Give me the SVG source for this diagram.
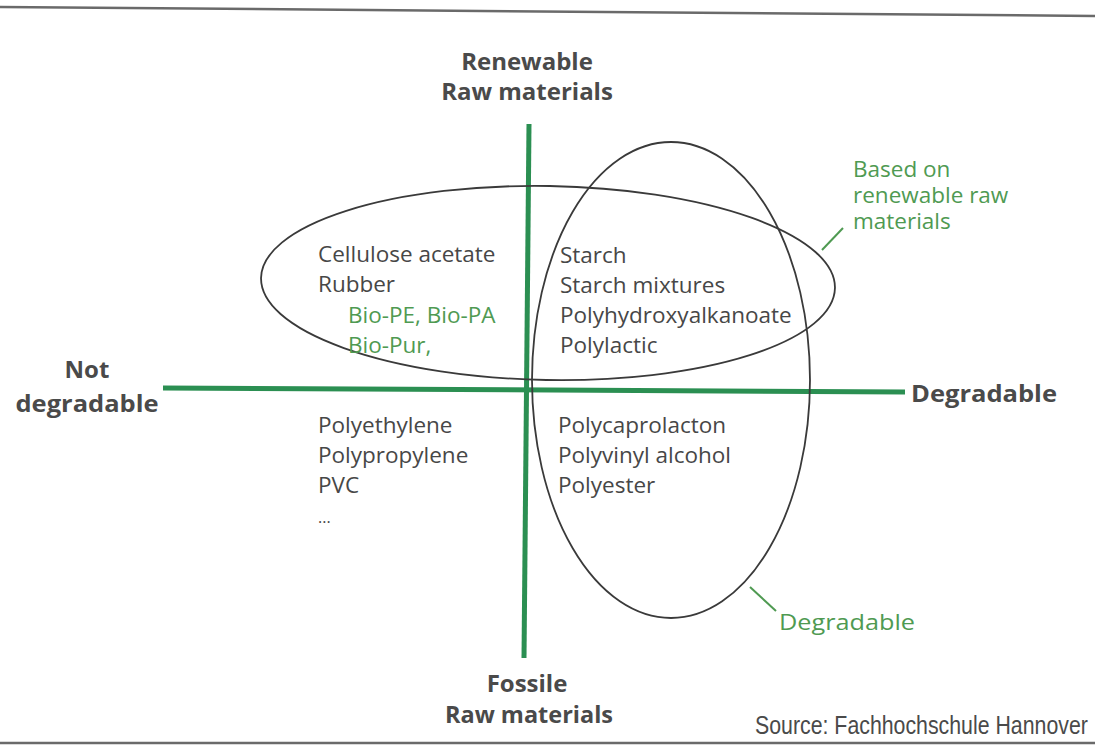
<svg xmlns="http://www.w3.org/2000/svg" width="1095" height="747" viewBox="0 0 1095 747">
<style>
.bold{font-family:"Open Sans","Noto Sans",sans-serif;font-weight:bold;font-size:24px;fill:#4a4a4a}
.body{font-family:"Open Sans","Noto Sans",sans-serif;font-size:22.5px;fill:#474747}
.gbody{font-family:"Open Sans","Noto Sans",sans-serif;font-size:22.5px;fill:#4f9a52}
.glabel{font-family:"Open Sans","Noto Sans",sans-serif;font-size:22.5px;fill:#4f9a52}
.src{font-family:"Liberation Sans",Arial,sans-serif;font-size:26px;fill:#4a4a4a}
.axis{stroke:#2b8f52;stroke-width:5;fill:none}
.ell{stroke:#3a3a3a;stroke-width:1.8;fill:none}
.lead{stroke:#4f9a52;stroke-width:2;fill:none}
.rule{stroke:#6a6a6a;stroke-width:2.5;fill:none}
</style>
<rect width="1095" height="747" fill="#ffffff"/>
<g id="frame">
<line class="rule" x1="0" y1="7" x2="1095" y2="16"/>
<line class="rule" x1="0" y1="743" x2="1095" y2="743"/>
</g>
<g id="connectors">
<line class="axis" x1="163" y1="388" x2="905" y2="392"/>
<line class="axis" x1="529" y1="124" x2="524" y2="658"/>
<line class="lead" x1="822" y1="250" x2="843" y2="228"/>
<line class="lead" x1="750" y1="587" x2="776" y2="611"/>
</g>
<g id="ellipse-renewable">
<ellipse class="ell" cx="548" cy="283" rx="287" ry="97" transform="rotate(1 548 283)"/>
</g>
<g id="ellipse-degradable">
<ellipse class="ell" cx="671" cy="380" rx="139" ry="238"/>
</g>
<g id="label-renewable">
<text class="bold" x="527" y="70" text-anchor="middle">Renewable</text>
<text class="bold" x="527" y="100" text-anchor="middle">Raw materials</text>
</g>
<g id="label-fossile">
<text class="bold" x="527" y="692" text-anchor="middle">Fossile</text>
<text class="bold" x="529" y="723" text-anchor="middle" textLength="168" lengthAdjust="spacingAndGlyphs">Raw materials</text>
</g>
<g id="label-notdegradable">
<text class="bold" x="87" y="378" text-anchor="middle">Not</text>
<text class="bold" x="87" y="412" text-anchor="middle" textLength="143" lengthAdjust="spacingAndGlyphs">degradable</text>
</g>
<g id="label-degradable">
<text class="bold" x="911" y="402" textLength="146" lengthAdjust="spacingAndGlyphs">Degradable</text>
</g>
<g id="quadrant-top-left">
<text class="body" x="318" y="262">Cellulose acetate</text>
<text class="body" x="318" y="292">Rubber</text>
<text class="gbody" x="348" y="323">Bio-PE, Bio-PA</text>
<text class="gbody" x="348" y="353">Bio-Pur,</text>
</g>
<g id="quadrant-top-right">
<text class="body" x="560" y="263">Starch</text>
<text class="body" x="560" y="293">Starch mixtures</text>
<text class="body" x="560" y="323">Polyhydroxyalkanoate</text>
<text class="body" x="560" y="353">Polylactic</text>
</g>
<g id="quadrant-bottom-left">
<text class="body" x="318" y="433">Polyethylene</text>
<text class="body" x="318" y="463">Polypropylene</text>
<text class="body" x="318" y="493">PVC</text>
<text class="body" x="318" y="523" style="font-size:16px">...</text>
</g>
<g id="quadrant-bottom-right">
<text class="body" x="558" y="433">Polycaprolacton</text>
<text class="body" x="558" y="463">Polyvinyl alcohol</text>
<text class="body" x="558" y="493">Polyester</text>
</g>
<g id="note-renewable">
<text class="glabel" x="853" y="177">Based on</text>
<text class="glabel" x="853" y="203">renewable raw</text>
<text class="glabel" x="853" y="229">materials</text>
</g>
<g id="note-degradable">
<text class="glabel" x="779" y="630" textLength="136" lengthAdjust="spacingAndGlyphs">Degradable</text>
</g>
<g id="source">
<text class="src" transform="translate(755 734) scale(0.82 1)" x="0" y="0">Source: Fachhochschule Hannover</text>
</g>
</svg>
